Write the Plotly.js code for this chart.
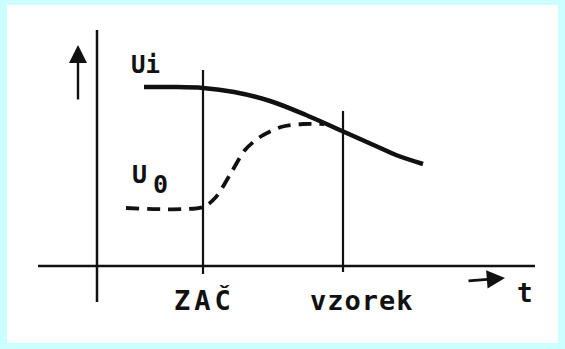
<!DOCTYPE html>
<html>
<head>
<meta charset="utf-8">
<script src="https://cdn.plot.ly/plotly-3.0.1.min.js"></script>
<style>
  html, body { margin: 0; padding: 0; background: #ccffff; width: 565px; height: 349px; overflow: hidden; }
  #chart { position: absolute; left: 7px; top: 5px; width: 551px; height: 338px; background: #ffffff; }
  /* stencil-style lettering is spaced a little wider */
  #chart g.annotation[data-index="3"] text { letter-spacing: 4px; }
  #chart g.annotation[data-index="4"] text { letter-spacing: 1px; }
</style>
</head>
<body>
<div id="chart"></div>
<script>
// Input voltage Ui (solid) – slowly falling over time
const uiTime = [4.7, 7.5, 10.6, 13.7, 17.3, 20.9, 24.5, 28.1, 29.9, 32.6];
const uiVolt = [17.9, 17.9, 17.8, 17.4, 16.5, 15.1, 13.5, 11.9, 11.1, 10.2];

// Output voltage U0 (dashed) – held, then tracking after ZAČ
const u0Time = [2.9, 10.6, 11.9, 13.4, 14.8, 16.3, 18.4, 20.6, 22.7];
const u0Volt = [5.8, 5.9, 6.9, 9.3, 11.6, 12.9, 13.9, 14.2, 14.2];

// Event markers on the time axis
const eventNames = ['ZAČ', 'vzorek'];
const eventTime = [10.6, 24.6];
const eventTop = [19.6, 15.5];
const eventBottom = [-0.8, -0.6];

// Hand-drawn axes extents
const timeAxisSpan = [-5.9, 43.8];
const voltAxisSpan = [-3.6, 23.6];

const ink = '#111111';
const letter = size => ({ family: 'DejaVu Sans Mono, monospace', color: ink, size: size, weight: 'bold' });

const traces = [];

// horizontal (time) axis
traces.push({ x: timeAxisSpan, y: [0, 0], mode: 'lines', line: { color: ink, width: 2.5 }, hoverinfo: 'skip' });
// vertical (voltage) axis
traces.push({ x: [0, 0], y: voltAxisSpan, mode: 'lines', line: { color: ink, width: 2.5 }, hoverinfo: 'skip' });

// event lines
eventTime.forEach((t, i) => {
  traces.push({ x: [t, t], y: [eventBottom[i], eventTop[i]], mode: 'lines',
    line: { color: ink, width: 2.2 }, hoverinfo: 'skip' });
});

// Ui
traces.push({ x: uiTime, y: uiVolt, mode: 'lines', name: 'Ui',
  line: { color: ink, width: 4.5, shape: 'spline', smoothing: 1 } });
// U0
traces.push({ x: u0Time, y: u0Volt, mode: 'lines', name: 'U0',
  line: { color: ink, width: 3.8, shape: 'spline', smoothing: 0.8, dash: '13px,8px' } });

const annotations = [
  // curve labels
  { x: 4.8, y: 20.1, text: 'Ui', font: letter(24) },
  { x: 4.2, y: 9.2, text: 'U', font: letter(25) },
  { x: 6.3, y: 8.2, text: '0', font: letter(25) },
  // event labels
  { x: eventTime[0] + 0.1, y: -3.4, text: eventNames[0], font: letter(27) },
  { x: 26.5, y: -3.4, text: eventNames[1], font: letter(27) },
  // time symbol
  { x: 42.8, y: -2.7, text: 't', font: letter(26) },
  // axis arrows
  { x: -1.9, y: 22.1, ax: -1.9, ay: 16.5, axref: 'x', ayref: 'y', text: '', showarrow: true,
    arrowhead: 2, arrowsize: 1.5, arrowwidth: 2.4, arrowcolor: ink },
  { x: 40.8, y: -1.2, ax: 37, ay: -1.5, axref: 'x', ayref: 'y', text: '', showarrow: true,
    arrowhead: 2, arrowsize: 1.3, arrowwidth: 2.8, arrowcolor: ink }
].map(a => Object.assign({ xref: 'x', yref: 'y', showarrow: false }, a));

const layout = {
  width: 551, height: 338,
  margin: { l: 0, r: 0, t: 0, b: 0 },
  paper_bgcolor: '#ffffff', plot_bgcolor: '#ffffff',
  showlegend: false,
  xaxis: { range: [-9, 46.1], visible: false, fixedrange: true },
  yaxis: { range: [-7.7, 26.1], visible: false, fixedrange: true },
  annotations: annotations
};

Plotly.newPlot('chart', traces, layout, { staticPlot: true, displayModeBar: false });
</script>
</body>
</html>
